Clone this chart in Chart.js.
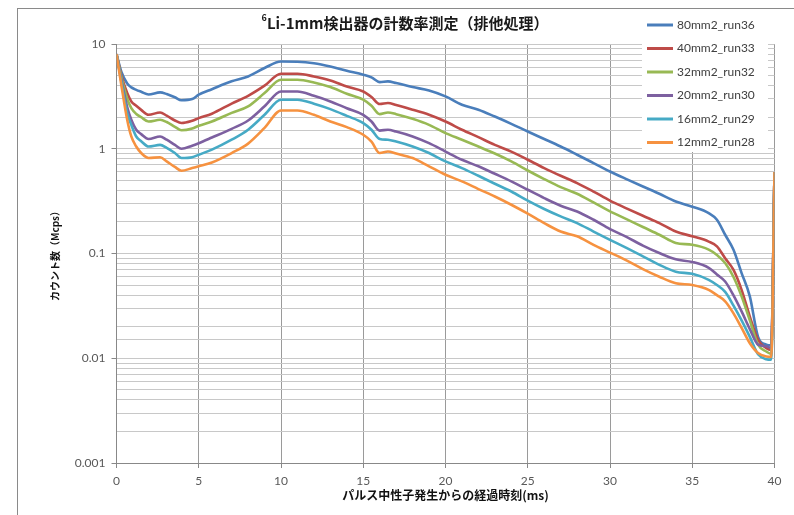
<!DOCTYPE html>
<html>
<head>
<meta charset="utf-8">
<script src="https://cdn.jsdelivr.net/npm/chart.js@4.4.1/dist/chart.umd.min.js"></script>
<style>
html,body{margin:0;padding:0;background:#fff;overflow:hidden;}
#wrap{position:relative;width:794px;height:515px;overflow:hidden;}
#c{position:absolute;left:0;top:0;}
#frame{position:absolute;left:17px;top:8px;width:900px;height:700px;border:1px solid #8a8a8a;pointer-events:none;}
</style>
</head>
<body>
<div id="wrap">
<canvas id="c" width="794" height="515"></canvas>
<div id="frame"></div>
</div>
<script>
// ---- data ----
const times = [0, 0.3, 0.65, 0.9, 1.2, 1.5, 1.95, 2.65, 3.05, 3.55, 3.95, 4.6, 5, 5.8, 7, 8, 9, 10, 11, 12, 13, 14, 15, 15.5, 16, 16.5, 17, 18, 19, 20, 21, 22, 23, 24, 25, 26, 27, 28, 29, 30, 31, 32, 33, 34, 35, 36, 36.5, 37, 37.5, 38, 38.5, 39, 39.5, 39.8, 40];

const run36 = [8, 5.4, 4.2, 3.85, 3.65, 3.5, 3.3, 3.45, 3.33, 3.1, 2.9, 2.98, 3.28, 3.7, 4.4, 4.9, 5.9, 6.8, 6.77, 6.55, 6.1, 5.55, 5.09, 4.8, 4.33, 4.4, 4.24, 3.88, 3.6, 3.16, 2.63, 2.36, 2.03, 1.73, 1.46, 1.24, 1.05, 0.877, 0.73, 0.607, 0.513, 0.436, 0.372, 0.314, 0.28, 0.243, 0.21, 0.151, 0.109, 0.065, 0.039, 0.016, 0.0135, 0.0133, 0.6];
const run33 = [8, 5.0, 3.4, 2.83, 2.57, 2.35, 2.11, 2.22, 2.07, 1.86, 1.76, 1.85, 1.96, 2.16, 2.7, 3.2, 4.0, 5.2, 5.2, 4.9, 4.49, 3.93, 3.52, 3.12, 2.67, 2.73, 2.61, 2.36, 2.11, 1.82, 1.52, 1.29, 1.09, 0.94, 0.785, 0.654, 0.552, 0.47, 0.39, 0.32, 0.27, 0.229, 0.195, 0.162, 0.146, 0.13, 0.117, 0.09, 0.07, 0.045, 0.025, 0.015, 0.0125, 0.012, 0.6];
const run32 = [8, 4.8, 3.0, 2.44, 2.15, 2.0, 1.82, 1.89, 1.8, 1.62, 1.5, 1.56, 1.66, 1.82, 2.2, 2.54, 3.4, 4.56, 4.56, 4.3, 3.88, 3.35, 2.94, 2.57, 2.14, 2.22, 2.14, 1.93, 1.69, 1.41, 1.22, 1.05, 0.9, 0.757, 0.62, 0.513, 0.43, 0.372, 0.307, 0.252, 0.213, 0.179, 0.151, 0.126, 0.121, 0.109, 0.097, 0.081, 0.06, 0.039, 0.023, 0.0135, 0.0116, 0.011, 0.6];
const run30 = [8, 4.5, 2.5, 1.89, 1.52, 1.38, 1.24, 1.31, 1.22, 1.09, 1.0, 1.07, 1.13, 1.28, 1.55, 1.86, 2.54, 3.52, 3.52, 3.2, 2.83, 2.44, 2.11, 1.82, 1.49, 1.52, 1.46, 1.31, 1.13, 0.94, 0.785, 0.68, 0.577, 0.488, 0.406, 0.338, 0.286, 0.252, 0.21, 0.171, 0.144, 0.119, 0.101, 0.088, 0.083, 0.073, 0.063, 0.054, 0.04, 0.028, 0.019, 0.0135, 0.013, 0.0125, 0.6];
const run29 = [8, 4.3, 2.2, 1.69, 1.31, 1.18, 1.05, 1.09, 1.02, 0.91, 0.815, 0.83, 0.877, 0.98, 1.22, 1.52, 2.11, 2.94, 2.94, 2.69, 2.39, 2.06, 1.76, 1.52, 1.24, 1.22, 1.17, 1.05, 0.91, 0.757, 0.654, 0.552, 0.463, 0.391, 0.32, 0.266, 0.226, 0.195, 0.162, 0.135, 0.113, 0.094, 0.078, 0.067, 0.064, 0.056, 0.05, 0.043, 0.032, 0.023, 0.016, 0.0109, 0.0098, 0.0097, 0.6];
const run28 = [8, 4.0, 1.89, 1.31, 1.05, 0.91, 0.815, 0.83, 0.757, 0.67, 0.617, 0.654, 0.68, 0.74, 0.91, 1.12, 1.58, 2.32, 2.32, 2.11, 1.82, 1.61, 1.36, 1.17, 0.91, 0.94, 0.9, 0.815, 0.68, 0.565, 0.488, 0.412, 0.35, 0.292, 0.24, 0.195, 0.162, 0.146, 0.121, 0.102, 0.086, 0.071, 0.06, 0.052, 0.05, 0.045, 0.04, 0.035, 0.027, 0.0195, 0.0139, 0.0112, 0.0104, 0.0103, 0.6];

const seriesNames = ['80mm2_run36', '40mm2_run33', '32mm2_run32', '20mm2_run30', '16mm2_run29', '12mm2_run28'];
const seriesValues = [run36, run33, run32, run30, run29, run28];
const seriesColors = ['#4A7EBB', '#BE4B48', '#98B954', '#7D60A0', '#46AAC5', '#F69240'];

const xTickLabels = ['0', '5', '10', '15', '20', '25', '30', '35', '40'];
const yTickLabels = ['0.001', '0.01', '0.1', '1', '10'];

const titleSup = '6';
const titleMain = 'Li-1mm検出器の計数率測定（排他処理）';
const xTitle = 'パルス中性子発生からの経過時刻(ms)';
const yTitle = 'カウント数（Mcps）';

// ---- build ----
const datasets = seriesNames.map((name, i) => ({
  label: name,
  data: times.map((t, k) => ({x: t, y: seriesValues[i][k]})),
  borderColor: seriesColors[i],
  backgroundColor: seriesColors[i],
  borderWidth: 2.6,
  pointRadius: 0,
  fill: false,
  cubicInterpolationMode: 'monotone',
  order: seriesNames.length - i
}));

const titlePlugin = {
  id: 'supTitle',
  afterDraw(chart) {
    const ctx = chart.ctx;
    ctx.save();
    const mainFont = 'bold 15px "Noto Sans CJK JP", sans-serif';
    const supFont = 'bold 9px "Noto Sans CJK JP", sans-serif';
    ctx.font = supFont;
    const ws = ctx.measureText(titleSup).width;
    ctx.font = mainFont;
    const wm = ctx.measureText(titleMain).width;
    const cx = 405, cy = 23;
    const x0 = cx - (ws + wm) / 2;
    ctx.fillStyle = '#1a1a1a';
    ctx.textBaseline = 'middle';
    ctx.textAlign = 'left';
    ctx.font = supFont;
    ctx.fillText(titleSup, x0, cy - 5);
    ctx.font = mainFont;
    ctx.fillText(titleMain, x0 + ws, cy);
    ctx.restore();
  }
};

const legendPlugin = {
  id: 'boxLegend',
  afterDatasetsDraw(chart) {
    const ctx = chart.ctx;
    ctx.save();
    ctx.fillStyle = '#ffffff';
    ctx.fillRect(642, 12, 126, 140);
    chart.data.datasets.forEach((ds, i) => {
      const y = 25 + i * 23.5;
      ctx.strokeStyle = ds.borderColor;
      ctx.lineWidth = 3;
      ctx.beginPath();
      ctx.moveTo(647, y);
      ctx.lineTo(673, y);
      ctx.stroke();
      ctx.fillStyle = '#404040';
      ctx.font = '12px Lato, sans-serif';
      ctx.textBaseline = 'middle';
      ctx.textAlign = 'left';
      ctx.fillText(ds.label, 677, y);
    });
    ctx.restore();
  }
};

new Chart(document.getElementById('c'), {
  type: 'line',
  data: {datasets},
  plugins: [legendPlugin, titlePlugin],
  options: {
    responsive: false,
    animation: false,
    devicePixelRatio: 1,
    layout: {padding: {left: 17, top: 44, right: 19.5, bottom: 0}},
    plugins: {legend: {display: false}, title: {display: false}, tooltip: {enabled: false}},
    scales: {
      x: {
        type: 'linear', min: 0, max: 40,
        afterFit: s => { s.height = 52; },
        ticks: {
          stepSize: 5, autoSkip: false, maxRotation: 0,
          color: '#595959', font: {family: 'Lato', size: 12}, padding: 6,
          callback: v => xTickLabels[Math.round(v / 5)] ?? ''
        },
        grid: {color: '#9a9a9a', lineWidth: 1, tickLength: 5, tickColor: '#888'},
        border: {color: '#888', width: 1},
        title: {
          display: true, text: xTitle, color: '#111',
          font: {family: '"Noto Sans CJK JP"', size: 12, weight: 'bold'},
          padding: {top: 0, bottom: 12}
        }
      },
      y: {
        type: 'logarithmic', min: 0.001, max: 10,
        afterFit: s => { s.width = 99.5; },
        ticks: {
          autoSkip: false, color: '#595959', font: {family: 'Lato', size: 12}, padding: 6,
          callback: v => {
            const l = Math.log10(v);
            if (Math.abs(l - Math.round(l)) < 1e-6) return yTickLabels[Math.round(l) + 3] ?? '';
            return '';
          }
        },
        grid: {
          color: '#c8c8c8', lineWidth: 1, tickLength: 5,
          tickColor: c => (c.tick && c.tick.major) ? '#888' : 'rgba(0,0,0,0)'
        },
        border: {color: '#888', width: 1},
        title: {
          display: true, text: yTitle, color: '#111',
          font: {family: '"Noto Sans CJK JP"', size: 10, weight: 'bold'},
          padding: {top: 32, bottom: 0}
        }
      }
    }
  }
});
</script>
</body>
</html>
